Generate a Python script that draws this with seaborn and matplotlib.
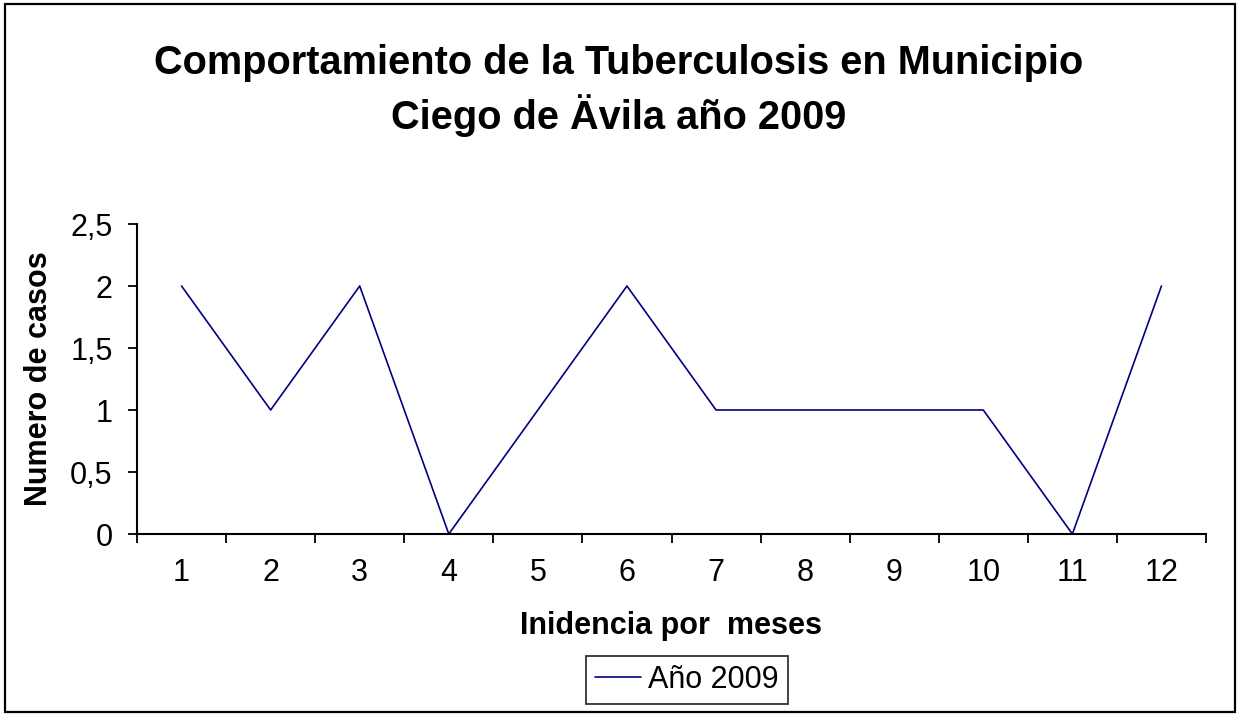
import pandas as pd
import numpy as np
import matplotlib
matplotlib.use('Agg')
import matplotlib.pyplot as plt
import seaborn as sns
from matplotlib.patches import Rectangle
from matplotlib.lines import Line2D

# Datos: casos de tuberculosis por mes
meses = [1, 2, 3, 4, 5, 6, 7, 8, 9, 10, 11, 12]
casos = [2, 1, 2, 0, 1, 2, 1, 1, 1, 1, 0, 2]
y_ticks = [0, 0.5, 1, 1.5, 2, 2.5]
y_labels = ['0', '0,5', '1', '1,5', '2', '2,5']

sns.set_theme(style='white')
plt.rcParams['font.family'] = ['Liberation Sans', 'DejaVu Sans']
plt.rcParams['text.color'] = 'black'
plt.rcParams['axes.labelcolor'] = 'black'
plt.rcParams['xtick.color'] = 'black'
plt.rcParams['ytick.color'] = 'black'

df = pd.DataFrame({'mes': meses, 'casos': casos, 'serie': 'Año 2009'})

W, H = 1237, 714
fig = plt.figure(figsize=(W / 100, H / 100), dpi=100)
ax = fig.add_axes([137 / W, 1 - 534 / H, (1206 - 137) / W, (534 - 224) / H])

sns.lineplot(data=df, x='mes', y='casos', hue='serie', palette=['#000080'],
             linewidth=1.2, ax=ax, legend=False)

ax.set_xlim(0.5, 12.5)
ax.set_ylim(0, 2.5)

# ticks en los limites de categoria, etiquetas en el centro
ax.set_xticks(np.arange(0.5, 13, 1))
ax.set_xticklabels([])
ax.set_xticks(meses, minor=True)
ax.set_xticklabels([str(m) for m in meses], minor=True)
ax.tick_params(axis='x', which='major', direction='out', length=6.5, width=1.3,
               bottom=True)
ax.tick_params(axis='x', which='minor', length=0, labelsize=22, pad=17)

ax.set_yticks(y_ticks)
ax.set_yticklabels(y_labels)
ax.tick_params(axis='y', direction='out', length=6.5, width=1.3,
               left=True, labelsize=22, pad=11)

for side in ['top', 'right']:
    ax.spines[side].set_visible(False)
for side in ['left', 'bottom']:
    ax.spines[side].set_color('black')
    ax.spines[side].set_linewidth(1.5)

ax.set_xlabel('Inidencia por  meses', fontsize=22, fontweight='bold', labelpad=17)
ax.set_ylabel('Numero de casos', fontsize=22, fontweight='bold', labelpad=12)

fig.text(0.5, 1 - 74 / H, 'Comportamiento de la Tuberculosis en Municipio',
         ha='center', va='baseline', fontsize=28.6, fontweight='bold')
fig.text(0.5, 1 - 129 / H, 'Ciego de Ävila año 2009', ha='center',
         va='baseline', fontsize=28.6, fontweight='bold')

# leyenda abajo
handle = Line2D([], [], color='#000080', linewidth=1.2)
leg = fig.legend([handle], ['Año 2009'], loc='center',
                 bbox_to_anchor=(687 / W, 1 - 680 / H), frameon=True,
                 fontsize=22, fancybox=False, handlelength=1.5,
                 borderpad=0.3, handletextpad=0.25, borderaxespad=0)
leg.get_frame().set_edgecolor('black')
leg.get_frame().set_linewidth(1.3)

# marco exterior de la figura
fig.patches.append(Rectangle((5 / W, 2 / H), (1235 - 5) / W, (710 - 2) / H,
                             transform=fig.transFigure, fill=False,
                             edgecolor='black', linewidth=1.6))

plt.savefig('out.png', dpi=100)
plt.close()
